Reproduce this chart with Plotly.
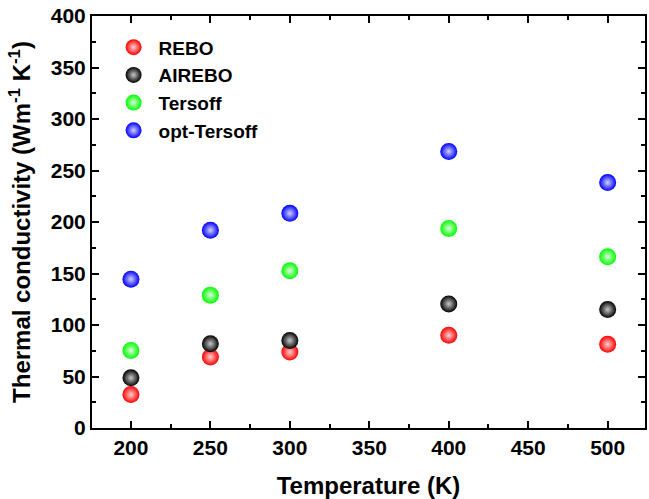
import plotly.graph_objects as go

temps = [200, 250, 300, 400, 500]
rebo = [32.5, 69, 73.7, 90, 81.2]
airebo = [48.7, 81.8, 85, 120.5, 115]
tersoff = [75.3, 129, 152.6, 193.8, 166.2]
opt_tersoff = [144.5, 192, 208.4, 268.5, 238.3]

series = [
    ("REBO", rebo, "#ff0000", "#ffd0d0"),
    ("AIREBO", airebo, "#000000", "#c8c8c8"),
    ("Tersoff", tersoff, "#00ff00", "#d8ffd8"),
    ("opt-Tersoff", opt_tersoff, "#0000ff", "#d0d0ff"),
]

fig = go.Figure()
for i, (name, vals, col, hi) in enumerate(series):
    fig.add_trace(go.Scatter(
        x=temps, y=vals, mode="markers", name=name,
        marker=dict(size=17, color=col, line=dict(width=0),
                    gradient=dict(type="radial", color=hi)),
    ))

font_family = "Liberation Sans, Arial, sans-serif"
axis_common = dict(
    showline=True, linecolor="black", linewidth=2, mirror="allticks",
    ticks="inside", ticklen=7, tickwidth=2, tickcolor="black",
    showgrid=False, zeroline=False,
    tickfont=dict(family=font_family, size=21, color="black", weight="bold"),
)

fig.update_layout(
    width=649, height=499,
    margin=dict(l=92, r=2, t=16, b=71),
    paper_bgcolor="white", plot_bgcolor="white",
    font=dict(family=font_family, color="black"),
    xaxis=dict(
        range=[175.5, 523.5], dtick=50, tick0=200,
        minor=dict(dtick=25, tick0=200, ticks="inside", ticklen=4, tickwidth=2, tickcolor="black"),
        title=dict(text="Temperature (K)", font=dict(family=font_family, size=24, weight="bold"), standoff=19),
        **axis_common,
    ),
    yaxis=dict(
        range=[0, 400], dtick=50,
        minor=dict(dtick=25, ticks="inside", ticklen=4, tickwidth=2, tickcolor="black"),
        title=dict(text="Thermal conductivity (Wm<sup>-1</sup> K<sup>-1</sup>)",
                   font=dict(family=font_family, size=24, weight="bold"), standoff=13),
        **axis_common,
    ),
    legend=dict(
        x=0.03, y=0.97, xanchor="left", yanchor="top",
        bgcolor="rgba(0,0,0,0)",
        font=dict(family=font_family, size=19, color="black", weight="bold"),
        itemsizing="trace", tracegroupgap=0, itemwidth=40,
    ),
    showlegend=True,
)

fig.write_html("out.html")
